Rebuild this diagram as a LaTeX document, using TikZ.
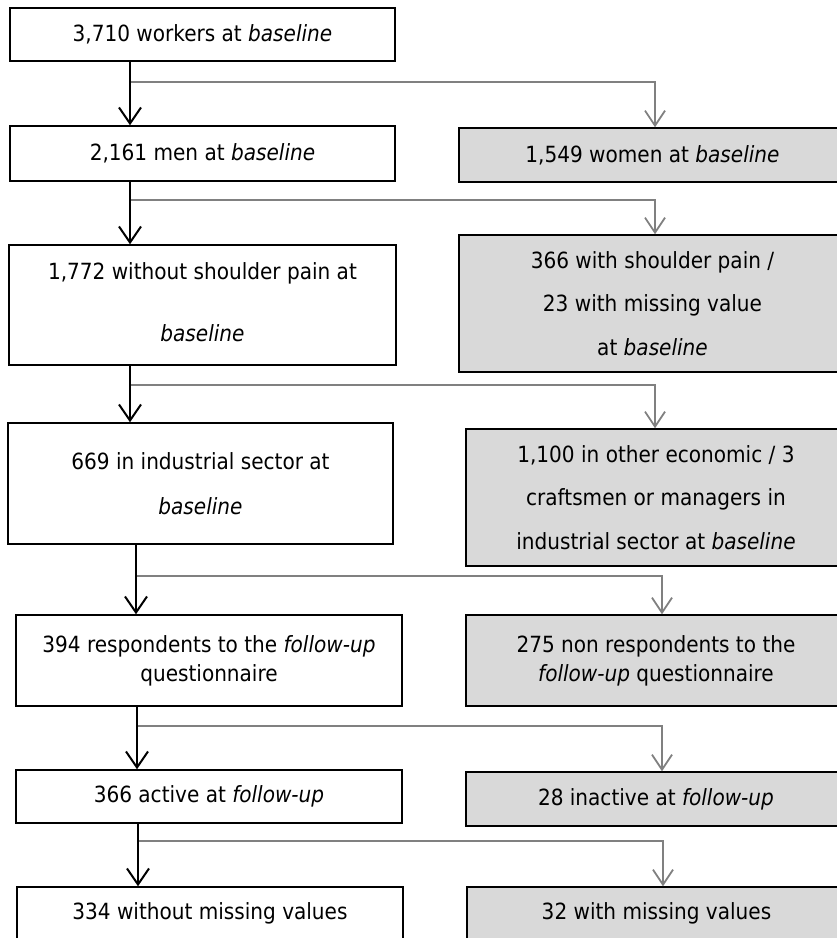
\documentclass[tikz,border=0pt]{standalone}
\usepackage{fontspec}
\setmainfont{DejaVu Sans Condensed}
\usetikzlibrary{arrows.meta}
\definecolor{boxgray}{RGB}{217,217,217}
\definecolor{linegray}{RGB}{128,128,128}
\begin{document}
\begin{tikzpicture}[x=1pt,y=-1pt,
  box/.style={draw=black, line width=1.5pt, fill=white, inner sep=0pt,
    align=center, font=\fontsize{22.3}{29}\selectfont},
  gbox/.style={box, fill=boxgray},
  blk/.style={draw=black, line width=2pt,
    -{Straight Barb[length=16pt,width=22pt,line width=2pt]}},
  gry/.style={draw=linegray, line width=2pt,
    -{Straight Barb[length=15pt,width=20pt,line width=1.8pt]}}]
\useasboundingbox (0,0) rectangle (837,938);
\clip (0,0) rectangle (837,938);

% left column
\node[box, minimum width=385pt, minimum height=53pt] (b1) at (202.5,34.5)
  {3,710 workers at \textit{baseline}};
\node[box, minimum width=385pt, minimum height=55pt] (b2) at (202.5,153.5)
  {2,161 men at \textit{baseline}};
\node[box, minimum width=387pt, minimum height=120pt] (b3) at (202.5,305)
  {\raisebox{6pt}{1,772 without shoulder pain at}\\[33pt]\raisebox{6pt}{\textit{baseline}}};
\node[box, minimum width=385pt, minimum height=121pt] (b4) at (200.5,483.5)
  {669 in industrial sector at\\[16pt]\textit{baseline}};
\node[box, minimum width=386pt, minimum height=91pt] (b5) at (209,660.5)
  {394 respondents to the \textit{follow-up}\\questionnaire};
\node[box, minimum width=386pt, minimum height=53pt] (b6) at (209,796.5)
  {366 active at \textit{follow-up}};
\node[box, minimum width=386pt, minimum height=53pt] (b7) at (210,913.5)
  {334 without missing values};

% right column
\node[gbox, minimum width=387pt, minimum height=54pt] (g2) at (652.5,155)
  {1,549 women at \textit{baseline}};
\node[gbox, minimum width=387pt, minimum height=137pt] (g3) at (652.5,303.5)
  {366 with shoulder pain /\\[14.5pt] 23 with missing value\\[14.5pt]at \textit{baseline}};
\node[gbox, minimum width=380pt, minimum height=137pt] (g4) at (656,497.5)
  {1,100 in other economic / 3\\[14.5pt]craftsmen or managers in\\[14.5pt]industrial sector at \textit{baseline}};
\node[gbox, minimum width=380pt, minimum height=91pt] (g5) at (656,660.5)
  {275 non respondents to the\\\textit{follow-up} questionnaire};
\node[gbox, minimum width=380pt, minimum height=54pt] (g6) at (656,799)
  {28 inactive at \textit{follow-up}};
\node[gbox, minimum width=379pt, minimum height=53pt] (g7) at (656.5,913.5)
  {32 with missing values};

% vertical guides
\coordinate (xa) at (130,0);
\coordinate (xb) at (136,0);
\coordinate (xc) at (137,0);
\coordinate (xd) at (138,0);
\coordinate (ra) at (655,0);
\coordinate (rb) at (662,0);
\coordinate (rc) at (663,0);

% junctions
\coordinate (j1) at (130,82);
\coordinate (j2) at (130,200);
\coordinate (j3) at (130,385);
\coordinate (j4) at (136,576);
\coordinate (j5) at (137,726);
\coordinate (j6) at (138,841);

% gray branches
\draw[gry] (j1) -| (g2.north -| ra);
\draw[gry] (j2) -| (g3.north -| ra);
\draw[gry] (j3) -| (g4.north -| ra);
\draw[gry] (j4) -| (g5.north -| rb);
\draw[gry] (j5) -| (g6.north -| rb);
\draw[gry] (j6) -| (g7.north -| rc);

% black main flow
\draw[blk] (b1.south -| xa) -- (b2.north -| xa);
\draw[blk] (b2.south -| xa) -- (b3.north -| xa);
\draw[blk] (b3.south -| xa) -- (b4.north -| xa);
\draw[blk] (b4.south -| xb) -- (b5.north -| xb);
\draw[blk] (b5.south -| xc) -- (b6.north -| xc);
\draw[blk] (b6.south -| xd) -- (b7.north -| xd);
\end{tikzpicture}
\end{document}
